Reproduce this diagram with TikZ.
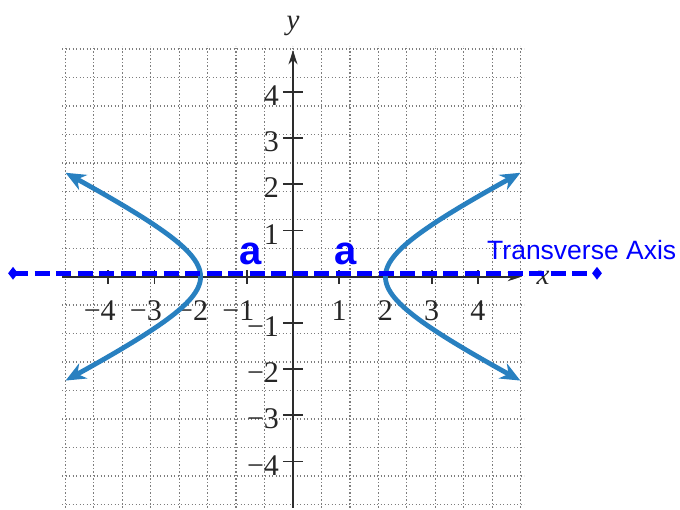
\documentclass[tikz,border=0pt]{standalone}
\usepackage{fontspec}
\setmainfont{Liberation Serif}
\newfontfamily\arialfont{Liberation Sans}
\usetikzlibrary{arrows.meta,shapes.geometric}
\definecolor{curveblue}{RGB}{40,128,192}
\definecolor{axisgray}{RGB}{45,45,45}
\definecolor{gridgray}{RGB}{125,125,125}
\definecolor{trblue}{RGB}{0,0,255}
\tikzset{
  gridline/.style={draw=gridgray,line width=1.3pt,dash pattern=on 1.3pt off 2.2pt},
  axisline/.style={draw=axisgray,line width=1.8pt,-{Stealth[length=14pt,width=9pt]}},
  tickmark/.style={draw=axisgray,line width=1.8pt},
  ticklabel/.style={inner sep=0pt,font=\fontsize{30}{30}\selectfont,text=black!85},
  axislabel/.style={inner sep=0pt,font=\fontsize{29}{29}\selectfont\itshape,text=black!85},
  branch/.style={draw=curveblue,line width=4.8pt,{Stealth[length=20pt,width=17pt]}-{Stealth[length=20pt,width=17pt]}},
  alabel/.style={inner sep=0pt,text=trblue,font=\fontsize{40}{40}\selectfont\arialfont\bfseries},
  trlabel/.style={inner sep=0pt,text=trblue,font=\fontsize{26.5}{26.5}\selectfont\arialfont},
  endmark/.style={shape=diamond,fill=trblue,draw=none,inner sep=0pt,minimum width=10pt,minimum height=13pt},
  trline/.style={draw=trblue,line width=4.5pt,dash pattern=on 15pt off 6.5pt}
}
\begin{document}
\begin{tikzpicture}[x=1pt,y=1pt]
\useasboundingbox (0,0) rectangle (680,510);
\begin{scope}[shift={(293pt,233.3pt)},x=46.2pt,y=46.2pt]
  % grid
  \draw[gridline] (-5,-5) grid (5,5);
  % axes
  \coordinate (xs) at (-5,0);
  \coordinate (xe) at (4.95,0);
  \coordinate (ys) at (0,-5);
  \coordinate (ye) at (0,4.9);
  \draw[axisline] (xs) -- (xe);
  \draw[axisline] (ys) -- (ye);
  % ticks and labels
  \foreach \i in {-4,-3,-2,-1,1,2,3,4}{
    \draw[tickmark] (\i,-0.15) -- (\i,0.15);
    \draw[tickmark] (-0.22,\i) -- (0.22,\i);
  }
  \foreach \i in {1,2,3,4}{
    \node[ticklabel] (xl\i) at (\i,-0.74) {\i};
    \node[ticklabel] (xm\i) at (-\i,-0.74) {\llap{−}\i};
    \node[ticklabel,anchor=east] (yl\i) at (-0.3,\i-0.08) {\i};
    \node[ticklabel,anchor=east] (ym\i) at (-0.3,-\i-0.08) {−\i};
  }
  \node[axislabel] (xlab) at (5.41,-0.02) {x};
  \node[axislabel] (ylab) at (0,5.42) {y};
  % hyperbola x^2/4 - y^2 = 1
  \draw[branch] plot[variable=\t,domain=1.55:-1.55,samples=60,smooth] ({2*cosh(\t)},{sinh(\t)});
  \draw[branch] plot[variable=\t,domain=1.55:-1.55,samples=60,smooth] ({-2*cosh(\t)},{sinh(\t)});
  % transverse axis
  \node[endmark] (tl) at (-6.06,0.074) {};
  \node[endmark] (tr) at (6.58,0.074) {};
  \draw[trline] (tl.center) -- (tr.center);
  \node[alabel] (a1) at (-0.909,0.491) {a};
  \node[alabel] (a2) at (1.136,0.491) {a};
  \node[trlabel,anchor=west] (tlab) at (4.2,0.57) {Transverse Axis};
\end{scope}
\end{tikzpicture}
\end{document}
